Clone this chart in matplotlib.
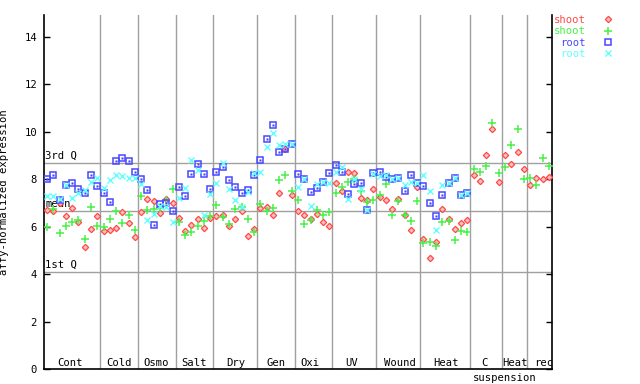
import numpy as np
import matplotlib
matplotlib.use("Agg")
import matplotlib.pyplot as plt

# expression values per sample
shoot_red = [6.71, 6.65, 6.99, 6.47, 6.78, 6.21, 5.13, 5.89, 6.47,
             5.83, 5.86, 5.93, 6.61, 6.14, 5.58,
             6.62, 7.16, 7.08, 6.57, 7.16, 6.99,
             6.36, 5.81, 6.06, 6.31, 5.93, 6.36,
             6.44, 6.48, 6.02, 6.31, 6.65, 5.60, 5.89,
             6.78, 6.82, 6.48, 7.41, 9.27, 7.33,
             6.65, 6.48, 6.31, 6.52, 6.19, 6.02,
             7.83, 7.50, 8.29, 8.25, 7.20, 7.11, 7.58,
             7.24, 7.11, 6.74, 7.16, 6.48, 5.85, 7.68,
             5.47, 4.67, 5.34, 6.74, 6.31, 5.89, 6.14, 6.27,
             8.17, 7.92, 9.01, 10.11, 7.87,
             9.01, 8.63, 9.14, 8.42,
             7.75, 8.04, 8.00, 8.09]
shoot_green = [5.98, 6.74, 5.72, 6.02, 6.19, 6.27, 5.47, 6.82, 6.02,
               5.98, 6.31, 6.65, 6.14, 6.48, 5.85,
               7.28, 6.69, 6.74, 6.78, 7.11, 7.58,
               6.19, 5.64, 5.77, 6.02, 6.23, 6.44,
               6.90, 6.40, 6.10, 6.74, 6.82, 6.31, 5.77,
               6.95, 6.65, 6.78, 7.96, 8.17, 7.50,
               7.11, 6.10, 6.27, 6.69, 6.48, 6.61,
               7.41, 7.66, 7.87, 8.00, 7.52, 7.03, 7.11,
               7.33, 7.79, 6.48, 7.08, 6.51, 6.23, 7.08,
               5.30, 5.34, 5.17, 6.19, 6.23, 5.44, 5.81, 5.77,
               8.42, 8.29, 8.55, 10.36, 8.25,
               8.51, 9.44, 10.11, 8.00,
               8.04, 7.75, 8.89, 8.55]
root_blue = [8.00, 8.18, 7.13, 7.77, 7.83, 7.58, 7.44, 8.18, 7.72,
             7.44, 7.04, 8.79, 8.89, 8.77, 8.29,
             8.00, 7.54, 6.06, 6.95, 7.01, 6.66,
             7.66, 7.30, 8.22, 8.63, 8.22, 7.58,
             8.29, 8.50, 7.96, 7.66, 7.41, 7.54, 8.17,
             8.80, 9.69, 10.28, 9.14, 9.27, 9.49,
             8.21, 8.00, 7.45, 7.62, 7.87, 8.25,
             8.59, 8.29, 7.37, 7.79, 7.83, 6.69, 8.25,
             8.29, 8.09, 8.00, 8.04, 7.50, 8.17, 7.83,
             7.71, 6.99, 6.44, 7.33, 7.83, 8.04, 7.33, 7.41]
root_cyan = [7.30, 7.30, 7.16, 7.75, 7.20, 7.41, 7.55, 7.90, 8.04,
             7.62, 7.97, 8.18, 8.14, 8.04, 8.04,
             7.79, 6.28, 6.52, 6.87, 6.82, 6.21,
             7.20, 7.62, 8.80, 8.38, 6.48, 7.37,
             7.83, 8.67, 7.58, 7.11, 6.82, 7.45, 8.25,
             8.29, 9.35, 9.94, 9.43, 9.48, 9.49,
             7.66, 8.00, 6.86, 7.79, 7.87, 7.83,
             8.29, 8.50, 7.16, 8.00, 7.58, 6.70, 8.21,
             8.14, 8.20, 8.00, 8.04, 7.75, 7.87, 7.83,
             8.17, 7.50, 5.85, 7.75, 7.83, 8.04, 7.33, 7.41]

# group separators (sample index) and labels
group_bounds = [9, 15, 21, 27, 34, 40, 46, 53, 60, 68, 73, 77]
group_labels = ["Cont", "Cold", "Osmo", "Salt", "Dry", "Gen", "Oxi", "UV",
                "Wound", "Heat", "C", "Heat", "rec"]
label_pos = [4.15, 11.9, 17.9, 23.9, 30.6, 37.0, 42.4, 49.1, 56.8, 64.1,
             70.3, 75.1, 79.7]
q1, mean, q3 = 4.09, 6.67, 8.69

n_samples = len(shoot_red)
x_shoot = np.arange(n_samples) + 0.5
x_root = np.arange(len(root_blue)) + 0.5

plt.rcParams['font.family'] = 'DejaVu Sans Mono'
fs = 7.6

fig = plt.figure(figsize=(6.4, 3.84), dpi=100)
ax = fig.add_axes([44/640, 15/384, 508/640, 354/384])

ax.set_xlim(0, n_samples)
ax.set_ylim(0, 15 * 354/355.7)

grey = '#a0a0a0'
for b in group_bounds:
    ax.axvline(b, color=grey, lw=1, zorder=1)
for q in (q1, mean, q3):
    ax.axhline(q, color=grey, lw=1, zorder=1)
ax.text(0.2, q3 + 0.08, "3rd Q", fontsize=fs, va='bottom', ha='left')
ax.text(0.2, mean + 0.08, "mean", fontsize=fs, va='bottom', ha='left')
ax.text(0.2, q1 + 0.08, "1st Q", fontsize=fs, va='bottom', ha='left')

red, green, blue, cyan = '#ff4848', '#48f048', '#4848ff', '#60ffff'
ax.plot(x_shoot, shoot_red, ls='none', marker='D', ms=3.2, mec=red,
        mfc='#ffc0c0', mew=0.9, label='shoot', zorder=3)
ax.plot(x_shoot, shoot_green, ls='none', marker='+', ms=5.5, mec=green,
        mew=1.1, label='shoot', zorder=3)
ax.plot(x_root, root_blue, ls='none', marker='s', ms=4.3, mec=blue,
        mfc='none', mew=1.1, label='root', zorder=3)
ax.plot(x_root, root_blue, ls='none', marker='s', ms=1.1, mec=blue,
        mfc=blue, mew=0.3, zorder=3)
ax.plot(x_root, root_cyan, ls='none', marker='x', ms=4.3, mec=cyan,
        mew=1.0, label='root', zorder=3)

for lab, p in zip(group_labels, label_pos):
    ax.text(p, 0.25, lab, fontsize=fs, ha='center', va='center')
ax.text(73.5, -0.38, "suspension", fontsize=fs, ha='center', va='center',
        clip_on=False)

ax.set_yticks(range(0, 15, 2))
ax.set_xticks([])
ax.tick_params(axis='y', direction='in', length=4.5, width=1, right=True,
               labelsize=fs, pad=5)
ax.spines['top'].set_visible(False)
for s in ('left', 'right', 'bottom'):
    ax.spines[s].set_linewidth(1.2)
ax.set_ylabel("affy-normalized expression", fontsize=fs)
ax.yaxis.set_label_coords(-0.068, 0.5)

leg = ax.legend(loc='upper left', bbox_to_anchor=(0.995, 1.012), frameon=False,
                markerfirst=False, fontsize=fs, handlelength=1.0,
                handletextpad=1.6, labelspacing=0.12, borderaxespad=0.0)
for t, c in zip(leg.get_texts(), [red, green, blue, cyan]):
    t.set_color(c)

fig.savefig("out.png", dpi=100)
